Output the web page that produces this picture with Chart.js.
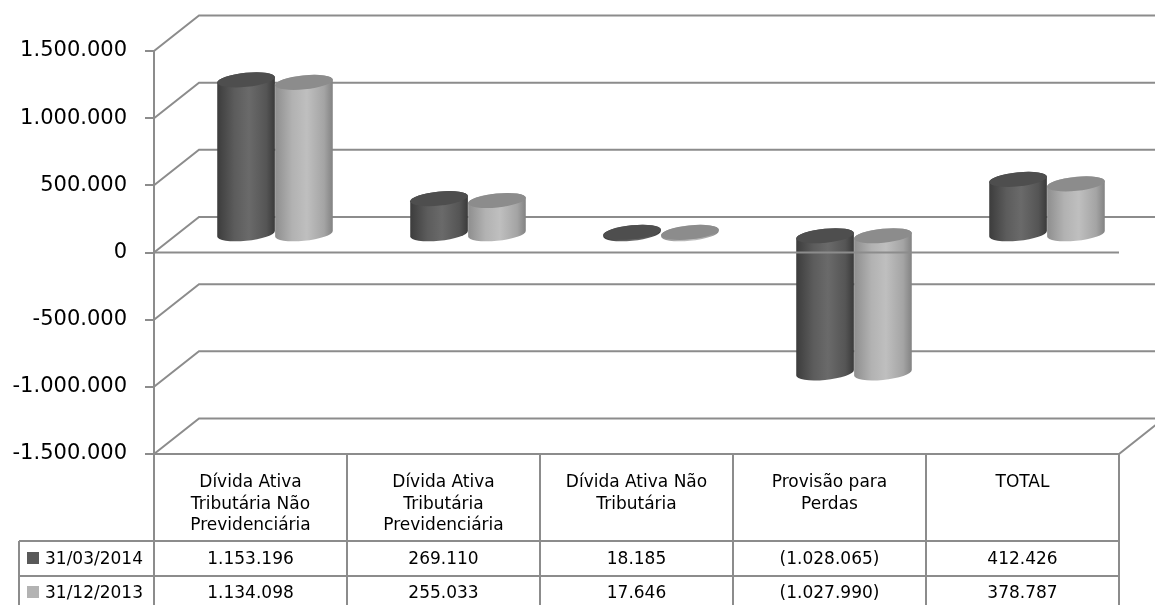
<!DOCTYPE html>
<html>
<head>
<meta charset="utf-8">
<script src="https://cdn.jsdelivr.net/npm/chart.js@4.4.1/dist/chart.umd.min.js"></script>
<style>
  html, body { margin: 0; padding: 0; background: #ffffff; }
  canvas { display: block; }
</style>
</head>
<body>
<canvas id="chart" width="1155" height="605"></canvas>
<script>
// ---- data ----
const categories = [
  ["Dívida Ativa", "Tributária Não", "Previdenciária"],
  ["Dívida Ativa", "Tributária", "Previdenciária"],
  ["Dívida Ativa Não", "Tributária"],
  ["Provisão para", "Perdas"],
  ["TOTAL"]
];
const seriesLabels = ["31/03/2014", "31/12/2013"];
const values2014 = [1153196, 269110, 18185, -1028065, 412426];
const values2013 = [1134098, 255033, 17646, -1027990, 378787];
const yTickValues = [-1500000, -1000000, -500000, 0, 500000, 1000000, 1500000];

// ---- formatting helpers ----
function groupThousands(n) {
  return Math.abs(Math.round(n)).toString().replace(/\B(?=(\d{3})+(?!\d))/g, ".");
}
function axisLabel(v) {
  return (v < 0 ? "-" : "") + groupThousands(v);
}
function tableLabel(v) {
  return v < 0 ? "(" + groupThousands(v) + ")" : groupThousands(v);
}

// ---- look ----
const LINE = "#8c8c8c";
const FONT = '"DejaVu Sans", sans-serif';
const DEPTH_X = 45, DEPTH_Y = -35.5;        // back wall offset
const BAR_DX = 24.5, BAR_DY = -17.75;       // bars sit at mid depth
const cylStyles = [
  { stops: [[0, "#3c3c3c"], [0.3, "#5c5c5c"], [0.55, "#6a6a6a"], [0.85, "#555555"], [1, "#3a3a3a"]], top: "#4e4e4e", key: "#595959" },
  { stops: [[0, "#8e8e8e"], [0.3, "#b2b2b2"], [0.55, "#bfbfbf"], [0.85, "#a4a4a4"], [1, "#828282"]], top: "#8c8c8c", key: "#b3b3b3" }
];

function drawCylinder(ctx, cx, yTop, yBot, w, style) {
  const rx = w / 2, ry = 7, rot = -0.1;
  const t0 = Math.atan(-(ry * Math.sin(rot)) / (rx * Math.cos(rot)));
  const g = ctx.createLinearGradient(cx - rx, 0, cx + rx, 0);
  style.stops.forEach(s => g.addColorStop(s[0], s[1]));
  ctx.beginPath();
  ctx.ellipse(cx, yBot, rx, ry, rot, Math.PI + t0, t0, true);
  ctx.ellipse(cx, yTop, rx, ry, rot, t0, t0 - Math.PI, true);
  ctx.closePath();
  ctx.fillStyle = g;
  ctx.fill();
  ctx.beginPath();
  ctx.ellipse(cx, yTop, rx, ry, rot, 0, Math.PI * 2);
  ctx.fillStyle = style.top;
  ctx.fill();
}

function line(ctx, pts) {
  ctx.beginPath();
  ctx.moveTo(pts[0][0], pts[0][1]);
  for (let i = 1; i < pts.length; i++) ctx.lineTo(pts[i][0], pts[i][1]);
  ctx.stroke();
}

// back wall grid with slanted connectors to the value axis
const wallPlugin = {
  id: "wall",
  beforeDatasetsDraw(chart) {
    const ctx = chart.ctx, y = chart.scales.y, area = chart.chartArea;
    ctx.save();
    ctx.strokeStyle = LINE;
    ctx.lineWidth = 2;
    y.ticks.forEach(t => {
      const p = y.getPixelForValue(t.value);
      line(ctx, [[area.left, p], [area.left + DEPTH_X, p + DEPTH_Y], [chart.width, p + DEPTH_Y]]);
    });
    ctx.restore();
  }
};

// cylinders placed from each bar element, then the floor edges in front
const cylinderPlugin = {
  id: "cylinders",
  afterDatasetsDraw(chart) {
    const ctx = chart.ctx, y = chart.scales.y, area = chart.chartArea;
    ctx.save();
    const metas = chart.data.datasets.map((d, i) => chart.getDatasetMeta(i));
    for (let i = 0; i < chart.data.labels.length; i++) {
      metas.forEach((meta, di) => {
        const el = meta.data[i];
        const top = Math.min(el.y, el.base) + BAR_DY;
        const bot = Math.max(el.y, el.base) + BAR_DY;
        drawCylinder(ctx, el.x + BAR_DX, top, bot, el.width, cylStyles[di]);
      });
    }
    ctx.strokeStyle = LINE;
    ctx.lineWidth = 2;
    const p0 = y.getPixelForValue(0);
    line(ctx, [[area.left, p0], [area.right, p0]]);
    line(ctx, [[area.left, area.bottom], [area.right, area.bottom], [area.right + DEPTH_X, area.bottom + DEPTH_Y]]);
    ctx.restore();
  }
};

// data table under the plot, columns follow the category scale
const tablePlugin = {
  id: "datatable",
  afterDraw(chart) {
    const ctx = chart.ctx, x = chart.scales.x, area = chart.chartArea;
    const n = chart.data.labels.length;
    const colW = (area.right - area.left) / n;
    const top = area.bottom, headBot = 541, rowBot = 576, bottom = chart.height;
    const legendLeft = 19;
    ctx.save();
    ctx.strokeStyle = LINE;
    ctx.lineWidth = 2;
    for (let k = 0; k <= n; k++) {
      const xp = area.left + k * colW;
      line(ctx, [[xp, top], [xp, bottom]]);
    }
    line(ctx, [[legendLeft, headBot], [legendLeft, bottom]]);
    line(ctx, [[legendLeft, headBot], [area.right, headBot]]);
    line(ctx, [[legendLeft, rowBot], [area.right, rowBot]]);

    ctx.fillStyle = "#000000";
    ctx.font = "17px " + FONT;
    ctx.textAlign = "center";
    ctx.textBaseline = "alphabetic";
    const headBase = [487, 508.5, 530];
    chart.data.labels.forEach((lab, i) => {
      const cx = x.getPixelForValue(i);
      lab.forEach((ln, j) => ctx.fillText(ln, cx, headBase[j]));
    });
    const rowBase = [564, 598];
    chart.data.datasets.forEach((ds, di) => {
      ds.data.forEach((v, i) => {
        ctx.fillText(tableLabel(v), x.getPixelForValue(i), rowBase[di]);
      });
      ctx.fillStyle = cylStyles[di].key;
      ctx.fillRect(27, rowBase[di] - 12, 12, 12);
      ctx.fillStyle = "#000000";
      ctx.textAlign = "left";
      ctx.fillText(ds.label, 45, rowBase[di]);
      ctx.textAlign = "center";
    });
    ctx.restore();
  }
};

new Chart(document.getElementById("chart").getContext("2d"), {
  type: "bar",
  data: {
    labels: categories,
    datasets: [
      { label: seriesLabels[0], data: values2014, backgroundColor: "rgba(0,0,0,0)", borderWidth: 0 },
      { label: seriesLabels[1], data: values2013, backgroundColor: "rgba(0,0,0,0)", borderWidth: 0 }
    ]
  },
  options: {
    responsive: false,
    animation: false,
    devicePixelRatio: 1,
    layout: { padding: { top: 51, right: 36, left: 0, bottom: 0 } },
    plugins: { legend: { display: false }, tooltip: { enabled: false } },
    datasets: { bar: { categoryPercentage: 0.6, barPercentage: 1.0 } },
    scales: {
      x: {
        grid: { display: false },
        border: { display: false },
        ticks: { display: false },
        afterFit(s) { s.height = 151; }
      },
      y: {
        min: yTickValues[0],
        max: yTickValues[yTickValues.length - 1],
        afterBuildTicks(s) { s.ticks = yTickValues.map(v => ({ value: v })); },
        ticks: {
          callback: v => axisLabel(v),
          font: { family: FONT, size: 21 },
          color: "#000000",
          padding: 18
        },
        grid: { drawOnChartArea: false, drawTicks: true, tickLength: 9, color: LINE, lineWidth: 2 },
        border: { color: LINE, width: 2 },
        afterFit(s) { s.width = 154; }
      }
    }
  },
  plugins: [wallPlugin, cylinderPlugin, tablePlugin]
});
</script>
</body>
</html>
